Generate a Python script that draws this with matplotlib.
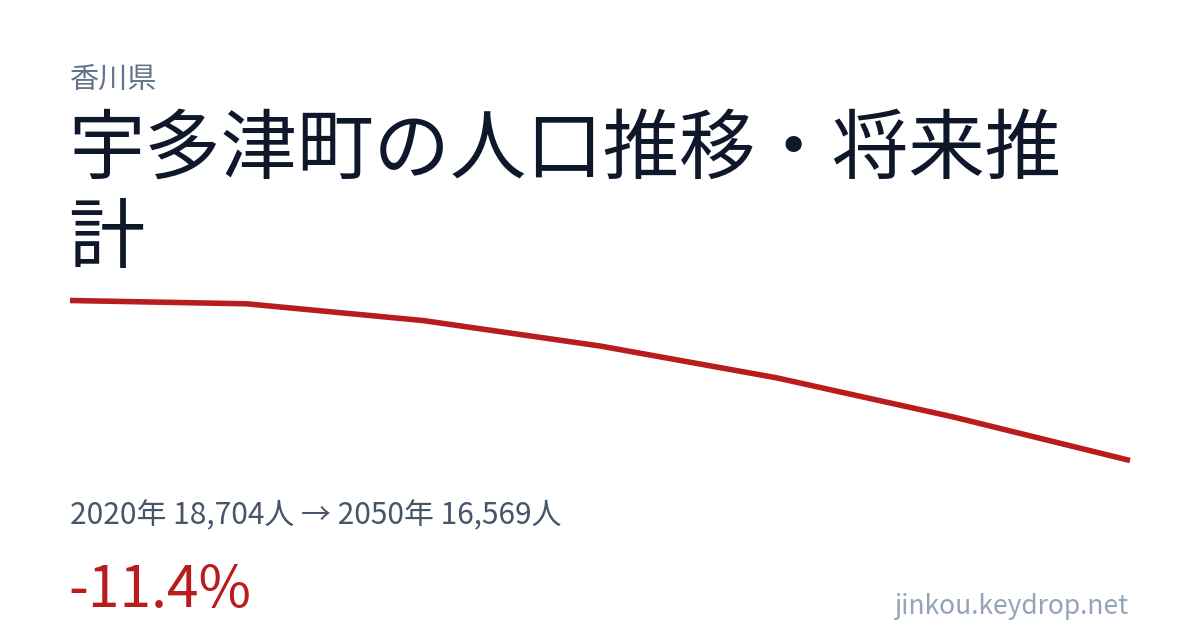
import matplotlib
matplotlib.use("Agg")
import matplotlib.pyplot as plt

plt.rcParams['font.family'] = ['Noto Sans CJK JP', 'DejaVu Sans']

# data
years = [2020, 2025, 2030, 2035, 2040, 2045, 2050]
population = [18704, 18660, 18436, 18097, 17672, 17150, 16569]

prefecture = "香川県"
title_lines = ["宇多津町の人口推移・将来推", "計"]
summary = "2020年 18,704人 → 2050年 16,569人"
change = "-11.4%"
site = "jinkou.keydrop.net"

W, H = 1200, 630
fig = plt.figure(figsize=(W / 100, H / 100), dpi=100)
fig.patch.set_facecolor("white")

def fy(py):
    return 1 - py / H

# line chart area: 2020 at x=70, 2050 at x=1130, max at y=300, min at y=460
ax = fig.add_axes([70 / W, fy(460.5), 1060 / W, (460.5 - 300.5) / H])
ax.plot(years, population, color="#b91c1c", lw=4.0, solid_capstyle="butt",
        solid_joinstyle="miter", clip_on=False)
ax.set_xlim(years[0], years[-1])
ax.set_ylim(min(population), max(population))
ax.axis("off")

fig.text(70 / W, fy(80), prefecture, fontsize=21, color="#64748b", va="center", ha="left")
fig.text(68 / W, fy(151), title_lines[0], fontsize=55, color="#0f172a", va="center", ha="left")
fig.text(68 / W, fy(240), title_lines[1], fontsize=55, color="#0f172a", va="center", ha="left")
fig.text(70 / W, fy(516), summary, fontsize=21.5, color="#475569", va="center", ha="left")
fig.text(68 / W, fy(591), change, fontsize=41, color="#b91c1c", va="center", ha="left")
fig.text(1128 / W, fy(606), site, fontsize=19, color="#94a3b8", va="center", ha="right")

fig.savefig("out.png", dpi=100, facecolor="white")
